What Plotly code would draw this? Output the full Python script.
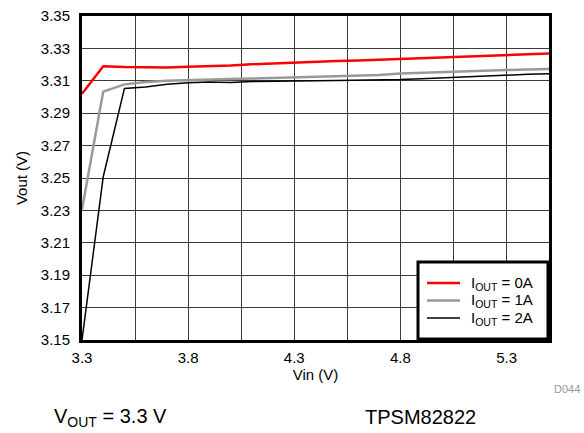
import plotly.graph_objects as go

vin = [3.3, 3.4, 3.5, 3.6, 3.7, 3.8, 3.9, 4.0, 4.1, 4.2, 4.3, 4.4, 4.5,
       4.6, 4.7, 4.8, 4.9, 5.0, 5.1, 5.2, 5.3, 5.4, 5.5]

vout_0a = [3.302, 3.319, 3.3185, 3.3182, 3.3182, 3.3187, 3.319, 3.3195, 3.3202, 3.3208,
           3.3214, 3.3218, 3.3222, 3.3226, 3.3231, 3.3236, 3.3241, 3.3246, 3.3251,
           3.3256, 3.326, 3.3264, 3.3268]
vout_1a = [3.2305, 3.3033, 3.3078, 3.3092, 3.3100, 3.3105, 3.3108, 3.3111, 3.3114, 3.3117,
           3.3121, 3.3124, 3.3127, 3.3131, 3.3136, 3.3145, 3.3150, 3.3154, 3.3158,
           3.3162, 3.3166, 3.3169, 3.3173]
vout_2a = [3.15, 3.2508, 3.3053, 3.3062, 3.3078, 3.3088, 3.3092, 3.3090, 3.3095, 3.3098,
           3.3099, 3.3101, 3.3102, 3.3103, 3.3104, 3.3108, 3.3113, 3.3119, 3.3125,
           3.3130, 3.3135, 3.3140, 3.3144]

series_names = ["I<sub>OUT</sub> = 0A", "I<sub>OUT</sub> = 1A", "I<sub>OUT</sub> = 2A"]
series_colors = ["#ff0000", "#999999", "#000000"]
series_widths = [2.5, 2.5, 1.5]

x_labels = [3.3, 3.8, 4.3, 4.8, 5.3]
x_minor = [3.55, 4.05, 4.55, 5.05]

W, H = 584, 433
ML, MR, MT, MB = 82, 35, 16, 93


def px(x, y):
    # pixel position -> paper coordinates
    return (x - ML) / (W - ML - MR), (H - MB - y) / (H - MT - MB)


fig = go.Figure()
for ys, name, col, lw in zip([vout_0a, vout_1a, vout_2a], series_names, series_colors, series_widths):
    fig.add_trace(go.Scatter(x=vin, y=ys, mode="lines", name=name, showlegend=False,
                             line=dict(color=col, width=lw)))

grid = "#3a3a3a"
fig.update_xaxes(range=[3.3, 5.5], tickvals=x_labels, ticktext=[f"{v:.1f}" for v in x_labels],
                 showgrid=True, gridcolor=grid, gridwidth=1,
                 minor=dict(tickvals=x_minor, showgrid=True, gridcolor=grid, gridwidth=1),
                 showline=True, mirror=True, linecolor="black", linewidth=3,
                 zeroline=False, ticks="", ticklabelstandoff=2, automargin=False,
                 title=dict(text="Vin (V)", standoff=5, font=dict(size=15)),
                 tickfont=dict(size=15))
fig.update_yaxes(range=[3.15, 3.35], tick0=3.15, dtick=0.02, tickformat=".2f",
                 showgrid=True, gridcolor=grid, gridwidth=1,
                 showline=True, mirror=True, linecolor="black", linewidth=3,
                 zeroline=False, ticks="", ticklabelstandoff=6, automargin=False,
                 title=dict(text="Vout (V)", standoff=10, font=dict(size=15)),
                 tickfont=dict(size=15))

fig.update_layout(
    width=W, height=H,
    margin=dict(l=ML, r=MR, t=MT, b=MB),
    paper_bgcolor="white", plot_bgcolor="white",
    font=dict(family="Liberation Sans, Arial, sans-serif", size=15, color="black"),
    showlegend=False,
)

# legend box drawn in the lower right corner
x0, y0 = px(418, 262)
x1, y1 = px(548, 339)
fig.add_shape(type="rect", xref="paper", yref="paper", x0=x0, y0=y1, x1=x1, y1=y0,
              fillcolor="white", line=dict(color="black", width=3), layer="above")
for i, (name, col, lw) in enumerate(zip(series_names, series_colors, series_widths)):
    yy = 283 + i * 17.5
    lx0, ly = px(427, yy)
    lx1, _ = px(460, yy)
    fig.add_shape(type="line", xref="paper", yref="paper", x0=lx0, y0=ly, x1=lx1, y1=ly,
                  line=dict(color=col, width=lw), layer="above")
    tx, ty = px(469, yy)
    fig.add_annotation(text=name, x=tx, y=ty, xref="paper", yref="paper", showarrow=False,
                       font=dict(size=15), xanchor="left", yanchor="middle")

ax, ay = px(582, 389)
fig.add_annotation(text="D044", x=ax, y=ay, xref="paper", yref="paper", showarrow=False,
                   font=dict(size=11, color="#999999"), xanchor="right", yanchor="middle")
ax, ay = px(52, 417)
fig.add_annotation(text="V<sub>OUT</sub> = 3.3 V", x=ax, y=ay, xref="paper", yref="paper",
                   showarrow=False, font=dict(size=20), xanchor="left", yanchor="middle")
ax, ay = px(363, 417)
fig.add_annotation(text="TPSM82822", x=ax, y=ay, xref="paper", yref="paper",
                   showarrow=False, font=dict(size=20), xanchor="left", yanchor="middle")

fig.write_html("out.html", config={"displayModeBar": False},
               post_script="document.body.style.margin='0';")
